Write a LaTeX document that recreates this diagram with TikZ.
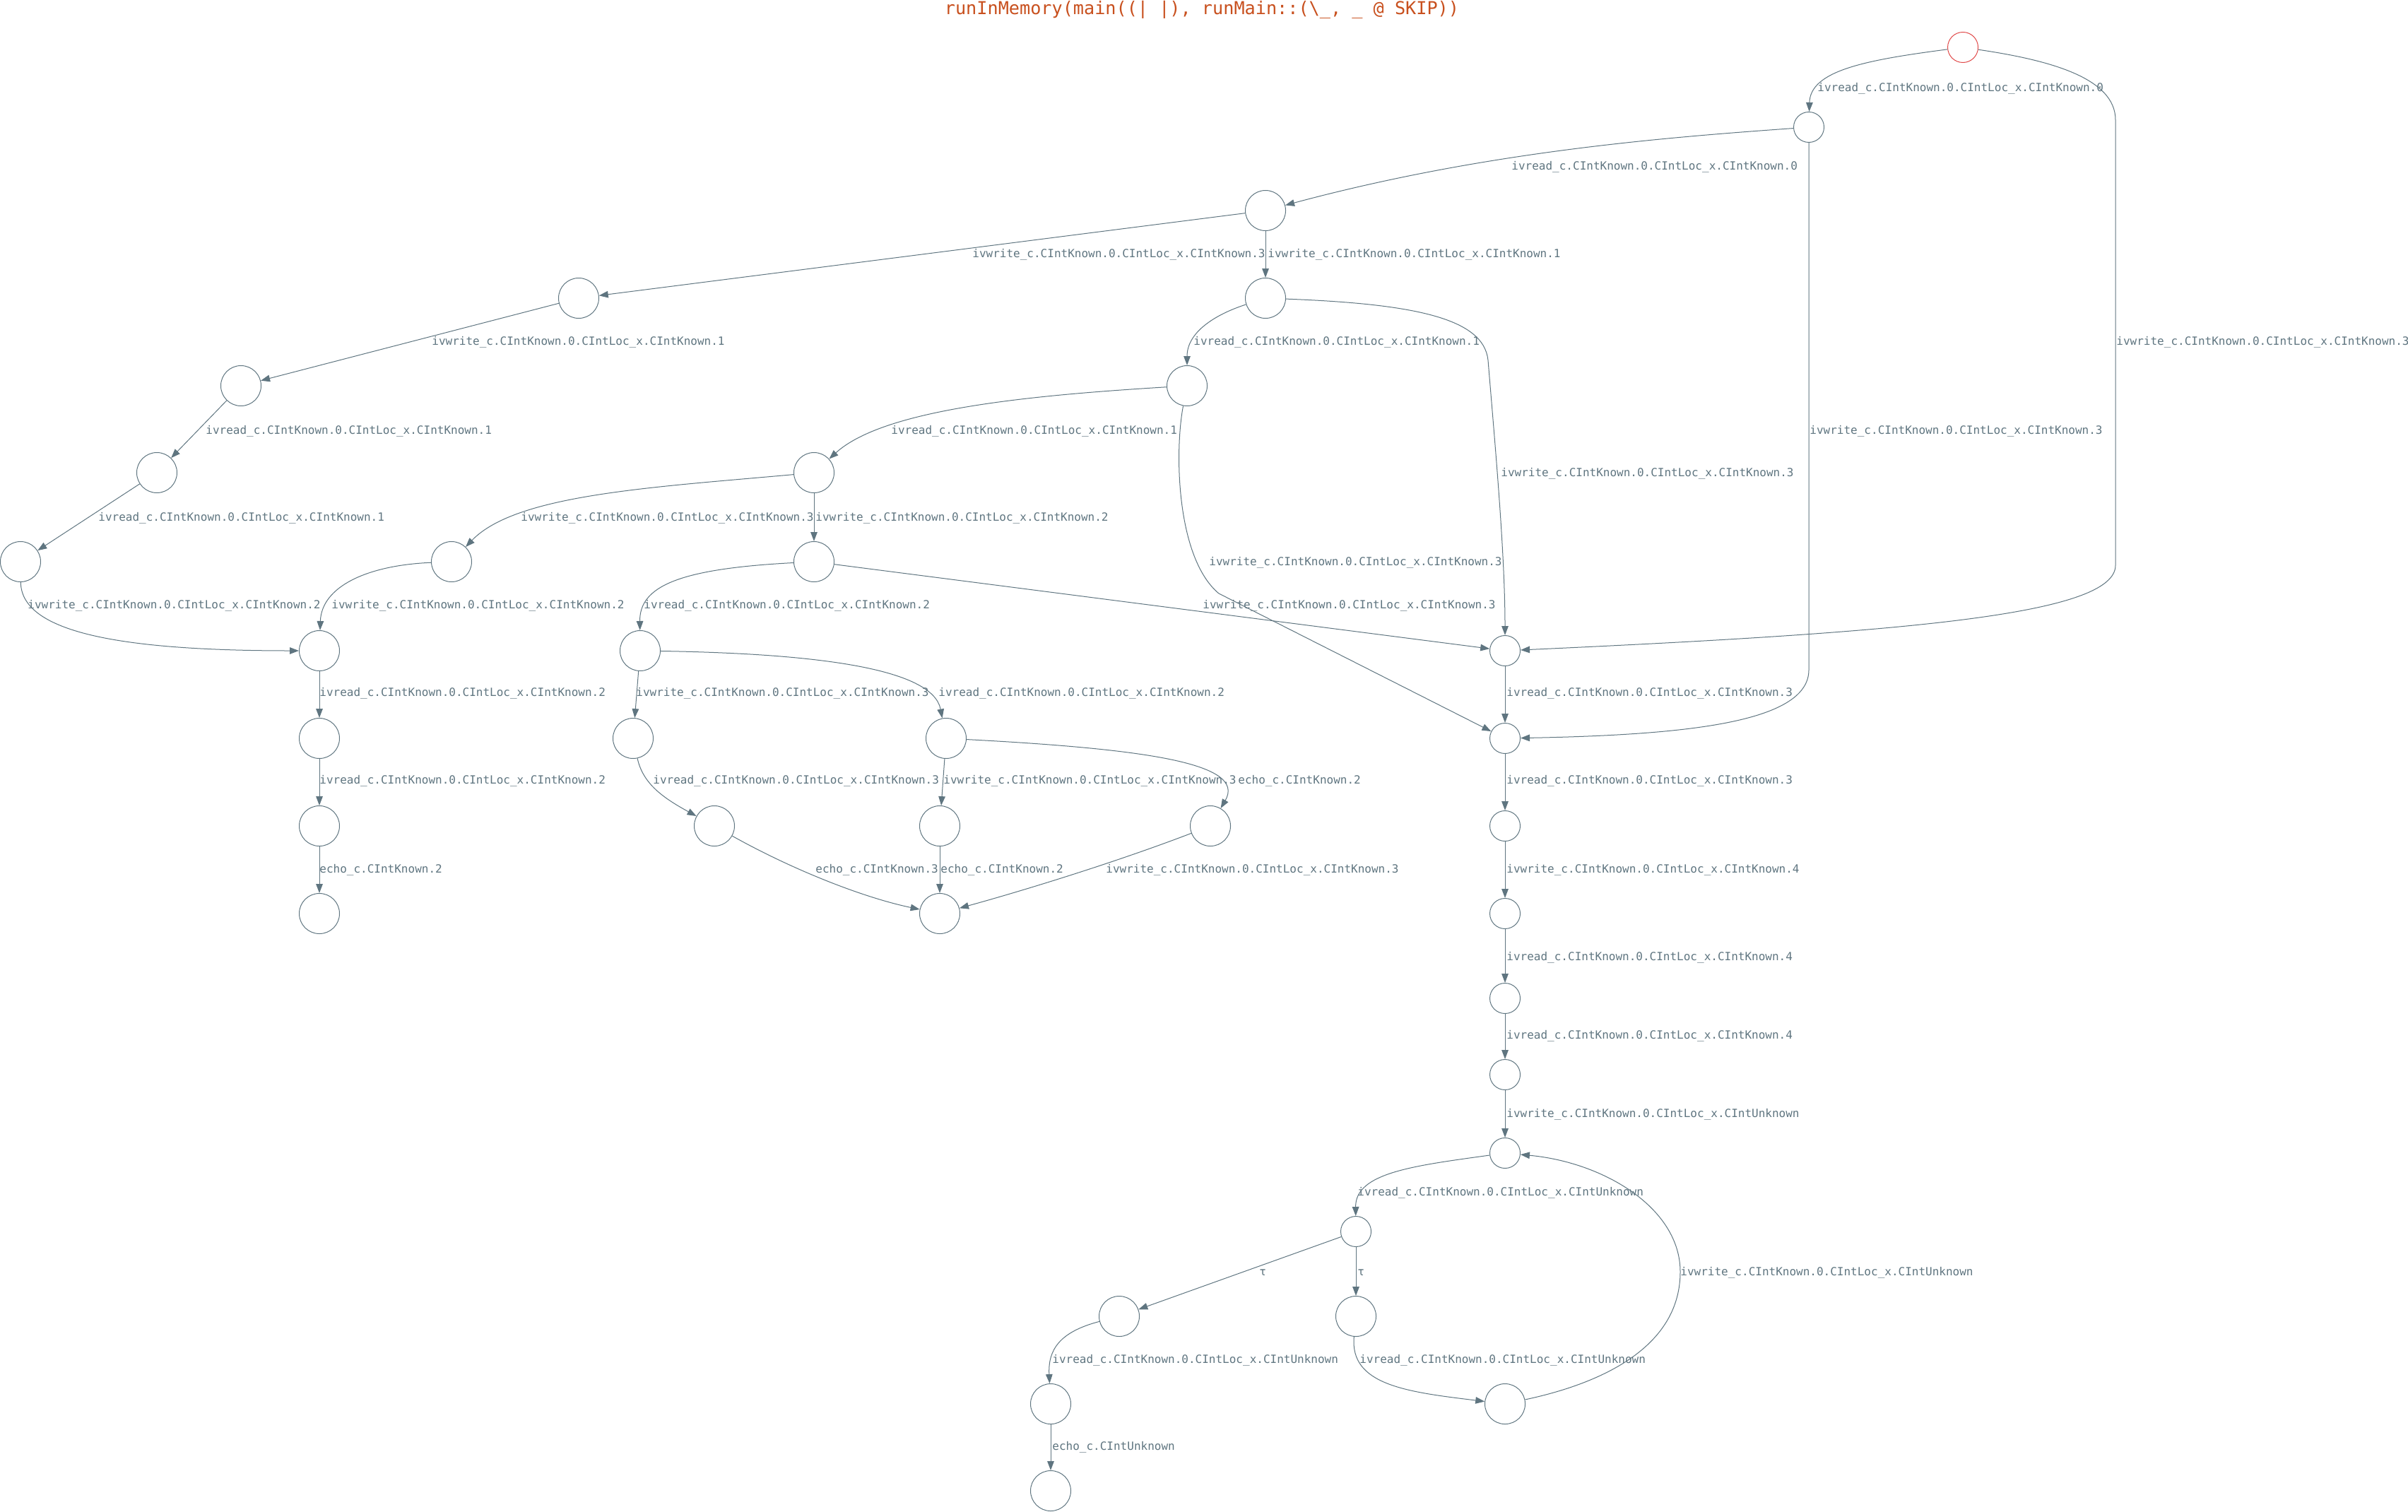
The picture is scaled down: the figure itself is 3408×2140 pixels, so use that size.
\documentclass[tikz,border=0pt]{standalone}
\usepackage{fontspec}
\usetikzlibrary{arrows.meta}
\newfontfamily\monofont{DejaVu Sans Mono}
\definecolor{edgecol}{HTML}{5F7580}
\definecolor{titlecol}{HTML}{C8501E}
\definecolor{initcol}{HTML}{E04848}
% transition labels
\newcommand{\rdlbl}[1]{ivread\_c.CIntKnown.0.CIntLoc\_x.CInt#1}
\newcommand{\wrlbl}[1]{ivwrite\_c.CIntKnown.0.CIntLoc\_x.CInt#1}

\begin{document}
\begin{tikzpicture}[x=0.5pt,y=-0.5pt,
  state/.style={circle, draw=edgecol, line width=0.5pt, minimum size=28.5pt, inner sep=0pt},
  smallstate/.style={minimum size=21.5pt},
  initstate/.style={draw=initcol},
  trans/.style={draw=edgecol, line width=0.5pt, -{Triangle[length=6.5pt,width=4.8pt]}},
  lbl/.style={anchor=base west, inner sep=0pt, yshift=-2.8pt, text=edgecol,
              font=\monofont\fontsize{8}{9}\selectfont},
]
\useasboundingbox (0,0) rectangle (3408,2140);

% title
\node[anchor=base, inner sep=0pt, text=titlecol, font=\monofont\fontsize{12.6}{15}\selectfont]
  (title) at (1701,21) {runInMemory(main((| |), runMain::(\textbackslash\_, \_ @ SKIP))};

% states
\node[state,initstate,smallstate] (s0) at (2778,67) {};
\node[state,smallstate] (n1) at (2560,180) {};
\node[state] (n2) at (1791,298) {};
\node[state] (n3) at (819,422) {};
\node[state] (n4) at (1791,422) {};
\node[state] (n5) at (341,546) {};
\node[state] (n6) at (1680,546) {};
\node[state] (n7) at (222,669) {};
\node[state] (n8) at (1152,669) {};
\node[state] (n9) at (29,795) {};
\node[state] (n10) at (639,795) {};
\node[state] (n11) at (1152,795) {};
\node[state] (n12) at (452,921) {};
\node[state] (n13) at (906,921) {};
\node[state,smallstate] (n14) at (2130,921) {};
\node[state] (n15) at (452,1045) {};
\node[state] (n16) at (896,1045) {};
\node[state] (n17) at (1339,1045) {};
\node[state,smallstate] (n18) at (2130,1045) {};
\node[state] (n19) at (452,1169) {};
\node[state] (n20) at (1011,1169) {};
\node[state] (n21) at (1330,1169) {};
\node[state] (n22) at (1713,1169) {};
\node[state,smallstate] (n23) at (2130,1169) {};
\node[state] (n24) at (452,1293) {};
\node[state] (n25) at (1330,1293) {};
\node[state,smallstate] (n26) at (2130,1293) {};
\node[state,smallstate] (n27) at (2130,1413) {};
\node[state,smallstate] (n28) at (2130,1521) {};
\node[state,smallstate] (n29) at (2130,1632) {};
\node[state,smallstate] (n30) at (1919,1743) {};
\node[state] (n31) at (1584,1863) {};
\node[state] (n32) at (1919,1863) {};
\node[state] (n33) at (1487,1987) {};
\node[state] (n34) at (2130,1987) {};
\node[state] (n35) at (1487,2110) {};

% transitions
\draw[trans] (s0) .. controls (2640,85) and (2562,100) .. (n1);
\draw[trans] (s0) .. controls (2900,85) and (2994,110) .. (2994,170) -- (2994,800)
  .. controls (2994,870) and (2700,895) .. (n14);
\draw[trans] (n1) .. controls (2350,195) and (2100,215) .. (n2);
\draw[trans] (n1) -- (2560,948) .. controls (2560,1020) and (2400,1040) .. (n18);
\draw[trans] (n2) -- (n3);
\draw[trans] (n2) -- (n4);
\draw[trans] (n3) -- (n5);
\draw[trans] (n4) .. controls (1720,445) and (1680,470) .. (n6);
\draw[trans] (n4) .. controls (2000,430) and (2100,450) .. (2106,510)
  .. controls (2115,620) and (2130,780) .. (n14);
\draw[trans] (n5) -- (n7);
\draw[trans] (n6) .. controls (1450,560) and (1250,580) .. (n8);
\draw[trans] (n6) .. controls (1662,640) and (1665,790) .. (1725,840) -- (n18);
\draw[trans] (n7) -- (n9);
\draw[trans] (n8) .. controls (920,690) and (730,700) .. (n10);
\draw[trans] (n8) -- (n11);
\draw[trans] (n9) .. controls (30,890) and (150,921) .. (n12);
\draw[trans] (n10) .. controls (520,800) and (455,830) .. (n12);
\draw[trans] (n11) .. controls (960,805) and (905,830) .. (n13);
\draw[trans] (n11) -- (n14);
\draw[trans] (n12) -- (n15);
\draw[trans] (n13) -- (n16);
\draw[trans] (n13) .. controls (1150,925) and (1320,945) .. (n17);
\draw[trans] (n14) -- (n18);
\draw[trans] (n15) -- (n19);
\draw[trans] (n16) .. controls (910,1110) and (940,1130) .. (n20);
\draw[trans] (n17) -- (n21);
\draw[trans] (n17) .. controls (1620,1060) and (1765,1080) .. (n22);
\draw[trans] (n18) -- (n23);
\draw[trans] (n19) -- (n24);
\draw[trans] (n20) .. controls (1120,1230) and (1220,1270) .. (n25);
\draw[trans] (n21) -- (n25);
\draw[trans] (n22) .. controls (1580,1220) and (1450,1260) .. (n25);
\draw[trans] (n23) -- (n26);
\draw[trans] (n26) -- (n27);
\draw[trans] (n27) -- (n28);
\draw[trans] (n28) -- (n29);
\draw[trans] (n29) .. controls (2000,1650) and (1918,1660) .. (n30);
\draw[trans] (n30) -- (n31);
\draw[trans] (n30) -- (n32);
\draw[trans] (n31) .. controls (1500,1885) and (1483,1910) .. (n33);
\draw[trans] (n32) .. controls (1910,1960) and (1990,1970) .. (n34);
\draw[trans] (n34) .. controls (2280,1955) and (2378,1900) .. (2378,1800)
  .. controls (2378,1710) and (2270,1645) .. (n29);
\draw[trans] (n33) -- (n35);

% transition labels
\node[lbl] (l1) at (2572,124) {\rdlbl{Known.0}};
\node[lbl] (l2) at (2995,483) {\wrlbl{Known.3}};
\node[lbl] (l3) at (2139,235) {\rdlbl{Known.0}};
\node[lbl] (l4) at (2561,609) {\wrlbl{Known.3}};
\node[lbl] (l5) at (1376,359) {\wrlbl{Known.3}};
\node[lbl] (l6) at (1794,359) {\wrlbl{Known.1}};
\node[lbl] (l7) at (611,483) {\wrlbl{Known.1}};
\node[lbl] (l8) at (1689,483) {\rdlbl{Known.1}};
\node[lbl] (l9) at (2124,669) {\wrlbl{Known.3}};
\node[lbl] (l10) at (291,609) {\rdlbl{Known.1}};
\node[lbl] (l11) at (1261,609) {\rdlbl{Known.1}};
\node[lbl] (l12) at (1711,795) {\wrlbl{Known.3}};
\node[lbl] (l13) at (139,732) {\rdlbl{Known.1}};
\node[lbl] (l14) at (737,732) {\wrlbl{Known.3}};
\node[lbl] (l15) at (1154,732) {\wrlbl{Known.2}};
\node[lbl] (l16) at (39,856) {\wrlbl{Known.2}};
\node[lbl] (l17) at (469,856) {\wrlbl{Known.2}};
\node[lbl] (l18) at (911,856) {\rdlbl{Known.2}};
\node[lbl] (l19) at (1702,856) {\wrlbl{Known.3}};
\node[lbl] (l20) at (452,980) {\rdlbl{Known.2}};
\node[lbl] (l21) at (900,980) {\wrlbl{Known.3}};
\node[lbl] (l22) at (1328,980) {\rdlbl{Known.2}};
\node[lbl] (l23) at (2132,980) {\rdlbl{Known.3}};
\node[lbl] (l24) at (452,1104) {\rdlbl{Known.2}};
\node[lbl] (l25) at (924,1104) {\rdlbl{Known.3}};
\node[lbl] (l26) at (1335,1104) {\wrlbl{Known.3}};
\node[lbl] (l27) at (1752,1104) {echo\_c.CIntKnown.2};
\node[lbl] (l28) at (2132,1104) {\rdlbl{Known.3}};
\node[lbl] (l29) at (452,1230) {echo\_c.CIntKnown.2};
\node[lbl] (l30) at (1154,1230) {echo\_c.CIntKnown.3};
\node[lbl] (l31) at (1331,1230) {echo\_c.CIntKnown.2};
\node[lbl] (l32) at (1565,1230) {\wrlbl{Known.3}};
\node[lbl] (l33) at (2132,1230) {\wrlbl{Known.4}};
\node[lbl] (l34) at (2132,1354) {\rdlbl{Known.4}};
\node[lbl] (l35) at (2132,1465) {\rdlbl{Known.4}};
\node[lbl] (l36) at (2132,1576) {\wrlbl{Unknown}};
\node[lbl] (l37) at (1921,1687) {\rdlbl{Unknown}};
\node[lbl] (l38) at (1782,1800) {τ};
\node[lbl] (l39) at (1921,1800) {τ};
\node[lbl] (l40) at (1489,1924) {\rdlbl{Unknown}};
\node[lbl] (l41) at (1924,1924) {\rdlbl{Unknown}};
\node[lbl] (l42) at (2378,1800) {\wrlbl{Unknown}};
\node[lbl] (l43) at (1489,2047) {echo\_c.CIntUnknown};
\end{tikzpicture}
\end{document}
